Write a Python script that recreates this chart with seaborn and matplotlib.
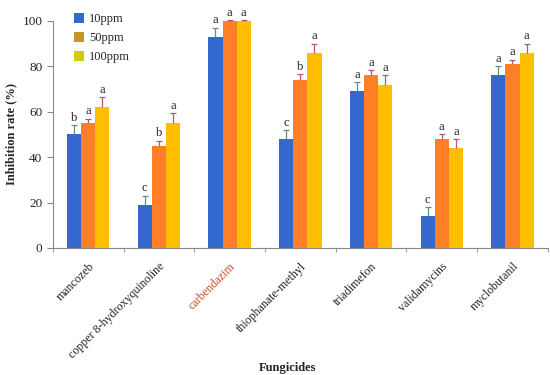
import matplotlib
matplotlib.use("Agg")
import matplotlib.pyplot as plt
import pandas as pd
import seaborn as sns
from matplotlib.patches import Patch
from matplotlib.ticker import FixedLocator

# data
fungicides = ["mancozeb", "copper 8-hydroxyquinoline", "carbendazim", "thiophanate-methyl",
              "triadimefon", "validamycins", "myclobutanil"]
doses = ["10ppm", "50ppm", "100ppm"]
rate_10 = [50, 19, 93, 48, 69, 14, 76]
rate_50 = [55, 45, 100, 74, 76, 48, 81]
rate_100 = [62, 55, 100, 86, 72, 44, 86]
err_10 = [4, 4, 4, 4, 4, 4, 4]
err_50 = [2, 2.3, 0.5, 2.6, 2.3, 2, 2]
err_100 = [4.4, 4.3, 0.5, 4, 4, 4, 4]
letters_10 = ["b", "c", "a", "c", "a", "c", "a"]
letters_50 = ["a", "b", "a", "b", "a", "a", "a"]
letters_100 = ["a", "a", "a", "a", "a", "a", "a"]

bar_colors = ["#3568CF", "#FF7F27", "#FFBE00"]
legend_colors = ["#2F6CCB", "#C8942C", "#CFCB05"]
err_colors = ["#5C8C94", "#B8566C", "#B8566C"]

df = pd.DataFrame({
    "Fungicides": fungicides * 3,
    "dose": [d for d in doses for _ in fungicides],
    "rate": rate_10 + rate_50 + rate_100,
})
errs = [err_10, err_50, err_100]
letters = [letters_10, letters_50, letters_100]

sns.set_style("ticks")
plt.rcParams["font.family"] = ["Liberation Serif", "DejaVu Serif"]

fig = plt.figure(figsize=(5.5, 3.75), dpi=100)
ax = fig.add_axes([0.096, 0.339, 0.9, 0.605])

sns.barplot(data=df, x="Fungicides", y="rate", hue="dose", order=fungicides,
            hue_order=doses, palette=bar_colors, width=0.6, errorbar=None,
            saturation=1, linewidth=0, ax=ax, legend=False)

# upper-only error bars and significance letters
for cont, e, lab, ec in zip(ax.containers, errs, letters, err_colors):
    xs = [b.get_x() + b.get_width() / 2 for b in cont]
    hs = [b.get_height() for b in cont]
    tops = [h + er for h, er in zip(hs, e)]
    ax.vlines(xs, hs, tops, color=ec, linewidth=0.9, clip_on=False)
    ax.plot(xs, tops, linestyle="none", marker="_", markersize=4, markeredgewidth=0.9,
            color=ec, clip_on=False)
    for x, t, s in zip(xs, tops, lab):
        ax.text(x, t + 0.6, s, ha="center", va="bottom", fontsize=9)

ax.set_xlim(-0.5, len(fungicides) - 0.5)
ax.set_ylim(0, 100)
ax.set_yticks([0, 20, 40, 60, 80, 100])
ax.tick_params(axis="y", labelsize=9.5, length=4, width=0.8, color="#888888")
ax.tick_params(axis="x", which="major", length=0, labelsize=8.6, pad=9)
ax.xaxis.set_minor_locator(FixedLocator([i - 0.5 for i in range(len(fungicides) + 1)]))
ax.tick_params(axis="x", which="minor", length=3, width=0.6, color="#888888")
plt.setp(ax.get_xticklabels(), rotation=45, ha="right", rotation_mode="anchor")
ax.get_xticklabels()[2].set_color("#C8502D")

sns.despine(ax=ax)
ax.spines["left"].set_color("#888888")
ax.spines["bottom"].set_color("#888888")

ax.set_ylabel("Inhibition rate (%)", fontsize=9, fontweight="bold")
ax.set_xlabel("Fungicides", fontsize=9, fontweight="bold")
ax.xaxis.set_label_coords(0.475, -0.505)

handles = [Patch(facecolor=c, edgecolor="none") for c in legend_colors]
ax.legend(handles, doses, loc="upper left", bbox_to_anchor=(0.02, 1.085), frameon=False,
          fontsize=9, handlelength=0.8, handleheight=0.8, handletextpad=0.4,
          labelspacing=0.55)

fig.savefig("out.png", dpi=100)
